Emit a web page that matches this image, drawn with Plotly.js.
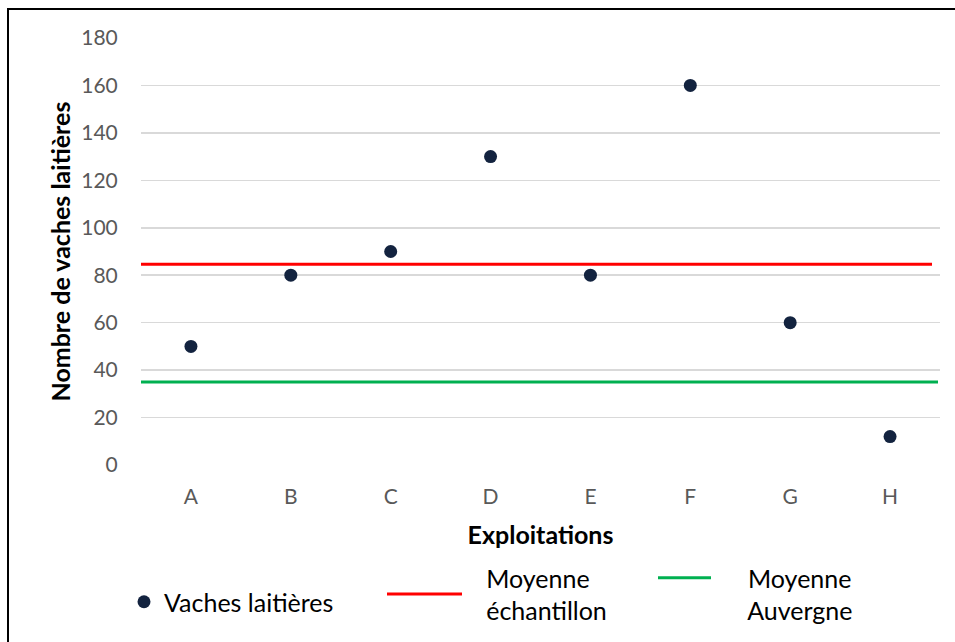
<!DOCTYPE html>
<html>
<head>
<meta charset="utf-8">
<script src="https://cdn.plot.ly/plotly-3.0.1.min.js"></script>
<style>
  html, body { margin: 0; padding: 0; background: #fff; }
  #wrap { position: relative; width: 955px; height: 642px; overflow: hidden; }
  #chart { position: absolute; left: 0; top: 0; width: 955px; height: 642px; }
  #frame { position: absolute; left: 7px; top: 8px; width: 1000px; height: 700px;
           border-left: 2px solid #000; border-top: 2px solid #000; pointer-events: none; }
</style>
</head>
<body>
<div id="wrap">
  <div id="chart"></div>
  <div id="frame"></div>
</div>
<script>
// Data
const exploitations = ["A", "B", "C", "D", "E", "F", "G", "H"];
const vachesLaitieres = [50, 80, 90, 130, 80, 160, 60, 12];
const moyenneEchantillon = 84.6;
const moyenneAuvergne = 35;
const spanEchantillon = [-0.5, 7.42];   // extent of sample-mean line along category axis
const spanAuvergne = [-0.5, 7.48];      // extent of Auvergne-mean line
const yTicks = [0, 20, 40, 60, 80, 100, 120, 140, 160, 180];
const xTitle = "Exploitations";
const yTitle = "Nombre de vaches laitières";

const FONT = "Lato, 'Open Sans', sans-serif";
const idx = exploitations.map((_, i) => i);
const NB = "\u00A0";

const traces = [
  {
    x: idx, y: vachesLaitieres, type: "scatter", mode: "markers",
    name: "Vaches laitières",
    marker: { color: "#13233f", size: 13, symbol: "circle" },
    legend: "legend"
  },
  {
    x: spanEchantillon, y: spanEchantillon.map(() => moyenneEchantillon),
    type: "scatter", mode: "lines",
    name: NB.repeat(3) + "Moyenne<br>" + NB.repeat(3) + "échantillon",
    line: { color: "#ff0000", width: 3 },
    legend: "legend2"
  },
  {
    x: spanAuvergne, y: spanAuvergne.map(() => moyenneAuvergne),
    type: "scatter", mode: "lines",
    name: NB.repeat(5) + "Moyenne<br>" + NB.repeat(5) + "Auvergne",
    line: { color: "#00b050", width: 3 },
    legend: "legend3"
  }
];

const legendFont = { family: FONT, size: 25, color: "#000" };
const layout = {
  width: 955, height: 642,
  paper_bgcolor: "#fff", plot_bgcolor: "#fff",
  margin: { l: 141, r: 15, t: 38, b: 177, autoexpand: false },
  font: { family: FONT },
  xaxis: {
    range: [-0.5, 7.5],
    tickvals: idx, ticktext: exploitations,
    showgrid: false, zeroline: false, showline: false,
    ticks: "outside", ticklen: 13, tickcolor: "rgba(0,0,0,0)",
    tickfont: { family: FONT, size: 21, color: "#595959" },
    title: { text: "<b>" + xTitle + "</b>", font: { family: FONT, size: 25, color: "#000" }, standoff: 19 },
    automargin: true,
    fixedrange: true
  },
  yaxis: {
    range: [0, 180],
    tickvals: yTicks,
    showgrid: true, gridcolor: "#d9d9d9", gridwidth: 1.5,
    zeroline: false, showline: false,
    ticks: "outside", ticklen: 18, tickcolor: "rgba(0,0,0,0)",
    tickfont: { family: FONT, size: 21, color: "#595959" },
    automargin: true,
    fixedrange: true
  },
  annotations: [
    {
      text: "<b>" + yTitle + "</b>",
      xref: "paper", yref: "paper", x: 0, y: 0.5,
      xanchor: "center", yanchor: "middle", xshift: -82,
      textangle: -90, showarrow: false,
      font: { family: FONT, size: 25, color: "#000" }
    }
  ],
  showlegend: true,
  legend: {
    xref: "container", yref: "container",
    x: 124 / 955, y: 1 - 579 / 642, xanchor: "left", yanchor: "top",
    font: legendFont, bgcolor: "rgba(0,0,0,0)", itemwidth: 30
  },
  legend2: {
    xref: "container", yref: "container",
    x: 382 / 955, y: 1 - 555 / 642, xanchor: "left", yanchor: "top",
    font: legendFont, bgcolor: "rgba(0,0,0,0)", itemwidth: 75
  },
  legend3: {
    xref: "container", yref: "container",
    x: 653 / 955, y: 1 - 555 / 642, xanchor: "left", yanchor: "top",
    font: legendFont, bgcolor: "rgba(0,0,0,0)", itemwidth: 53, valign: "top"
  }
};

Plotly.newPlot("chart", traces, layout, { staticPlot: true, displayModeBar: false });
</script>
</body>
</html>
